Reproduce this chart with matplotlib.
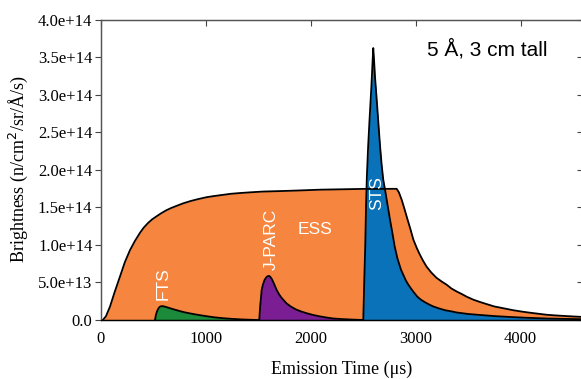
import numpy as np
import matplotlib.pyplot as plt

# emission time (us) and brightness (units of 1e14 n/cm2/sr/A/s)
ess_t = [20, 50, 89, 130, 184, 230, 279, 325, 374, 410, 450, 490, 532, 575, 624, 670, 724, 790, 860,
         930, 1010, 1080, 1160, 1240, 1327, 1430, 1550, 1680, 1803, 2100, 2500, 2819,
         2840, 2867, 2893, 2920, 2950, 2978, 3010, 3040, 3070, 3104, 3150, 3200, 3250, 3295, 3340,
         3390, 3440, 3486, 3550, 3612, 3680, 3750, 3840, 3930, 4010, 4100, 4170, 4246, 4320, 4400,
         4500, 4600]
ess_v = [0, 0.05, 0.18, 0.36, 0.58, 0.77, 0.93, 1.05, 1.16, 1.23, 1.29, 1.34, 1.38, 1.42, 1.46, 1.49,
         1.52, 1.555, 1.585, 1.61, 1.635, 1.65, 1.665, 1.68, 1.69, 1.70, 1.71, 1.715, 1.72, 1.735,
         1.745, 1.746, 1.70, 1.60, 1.48, 1.35, 1.21, 1.07, 0.96, 0.87, 0.79, 0.71, 0.63, 0.56, 0.51,
         0.47, 0.42, 0.38, 0.345, 0.31, 0.27, 0.24, 0.21, 0.18, 0.155, 0.13, 0.112, 0.095, 0.083,
         0.07, 0.062, 0.055, 0.047, 0.04]

fts_t = [517, 525, 535, 548, 562, 579, 600, 630, 680, 720, 755, 800, 850, 900, 946, 1010, 1080,
         1165, 1250, 1350, 1450, 1510]
fts_v = [0, 0.06, 0.11, 0.15, 0.175, 0.185, 0.182, 0.17, 0.148, 0.132, 0.118, 0.102, 0.088, 0.075,
         0.064, 0.05, 0.036, 0.024, 0.015, 0.007, 0.002, 0]

jparc_t = [1510, 1515, 1520, 1527, 1533, 1545, 1560, 1575, 1590, 1603, 1615, 1630, 1650, 1676, 1700,
           1720, 1745, 1771, 1810, 1860, 1910, 1962, 2020, 2080, 2150, 2215, 2300, 2400, 2500]
jparc_v = [0, 0.1, 0.2, 0.3, 0.4, 0.47, 0.53, 0.565, 0.583, 0.587, 0.575, 0.545, 0.485, 0.40, 0.34,
           0.30, 0.26, 0.22, 0.18, 0.14, 0.113, 0.09, 0.068, 0.05, 0.033, 0.02, 0.012, 0.005, 0]

sts_t = [2501, 2510, 2520, 2527, 2535, 2547, 2560, 2578, 2590, 2596, 2604, 2612, 2620, 2628, 2645,
         2660, 2675, 2691, 2710, 2730, 2755, 2778, 2800, 2826, 2860, 2905, 2930, 2960, 2990, 3016,
         3050, 3090, 3130, 3168, 3220, 3280, 3340, 3390, 3500, 3612, 3750, 3900, 4050, 4246, 4400,
         4600]
sts_v = [0, 0.5, 1.0, 1.5, 1.9, 2.3, 2.65, 3.1, 3.45, 3.62, 3.45, 3.25, 3.1, 2.95, 2.62, 2.33, 2.08,
         1.87, 1.72, 1.55, 1.34, 1.16, 0.98, 0.82, 0.67, 0.53, 0.47, 0.41, 0.355, 0.31, 0.27, 0.235,
         0.205, 0.18, 0.155, 0.13, 0.115, 0.10, 0.08, 0.067, 0.052, 0.04, 0.03, 0.02, 0.015, 0.01]

scale = 1e14
yticks = [0, 0.5, 1.0, 1.5, 2.0, 2.5, 3.0, 3.5, 4.0]
ylabels = ['0.0', '5.0e+13', '1.0e+14', '1.5e+14', '2.0e+14', '2.5e+14', '3.0e+14', '3.5e+14', '4.0e+14']
xticks = [0, 1000, 2000, 3000, 4000]

serif = 'Liberation Serif'
sans = 'Liberation Sans'
tick_col = '#444444'

fig = plt.figure(figsize=(5.81, 3.79), dpi=100)
ax = fig.add_axes([100.7 / 581, 59 / 379, 481.9 / 581, 300.5 / 379])

series = [(ess_t, ess_v, '#F5853F'),
          (fts_t, fts_v, '#1B8A3A'),
          (jparc_t, jparc_v, '#7B1E93'),
          (sts_t, sts_v, '#0A72B9')]
for t, v, c in series:
    v = np.array(v) * scale
    ax.fill_between(t, 0, v, color=c, lw=0)
    ax.plot(t, v, color='black', lw=1.3, solid_joinstyle='round')

ax.set_xlim(0, 4590)
ax.set_ylim(0, 4.0e14)
ax.set_xticks(xticks)
ax.set_yticks(np.array(yticks) * scale)
ax.set_yticklabels(ylabels)

ax.tick_params(axis='y', direction='out', length=4, width=0.8, pad=2, labelsize=12, color=tick_col)
ax.tick_params(axis='x', bottom=False, top=True, direction='in', length=4, width=0.8,
               pad=8, labelsize=12, color=tick_col)
for lab in ax.get_xticklabels() + ax.get_yticklabels():
    lab.set_fontfamily(serif)

# right side ticks point inward
ax2 = ax.twinx()
ax2.set_ylim(ax.get_ylim())
ax2.set_yticks(np.array(yticks) * scale)
ax2.tick_params(axis='y', direction='in', length=4, width=0.8, labelright=False, color=tick_col)

for a in (ax, ax2):
    for s in a.spines.values():
        s.set_color('#555555')
        s.set_linewidth(0.9)
    a.spines['bottom'].set_color('black')

ax.set_xlabel('Emission Time (\u03bcs)', fontsize=13, fontfamily=serif)
ax.set_ylabel('Brightness (n/cm$^2$/sr/\u00c5/s)', fontsize=13, fontfamily=serif)
ax.xaxis.set_label_coords(0.5, -0.135)
ax.yaxis.set_label_coords(-0.147, 0.5)

ax.text(597, 0.49e14, 'FTS', color='white', rotation=90, ha='center', va='center',
        fontsize=12.5, fontfamily=sans)
ax.text(1628, 1.07e14, 'J-PARC', color='white', rotation=90, ha='center', va='center',
        fontsize=12.5, fontfamily=sans)
ax.text(2040, 1.2e14, 'ESS', color='white', ha='center', va='center',
        fontsize=12.5, fontfamily=sans)
ax.text(2630, 1.69e14, 'STS', color='white', rotation=90, ha='center', va='center',
        fontsize=12.5, fontfamily=sans)
ax.text(3108, 3.6e14, '5 \u00c5, 3 cm tall', color='black', ha='left', va='center',
        fontsize=15, fontfamily=sans)

fig.savefig('out.png', dpi=100)
